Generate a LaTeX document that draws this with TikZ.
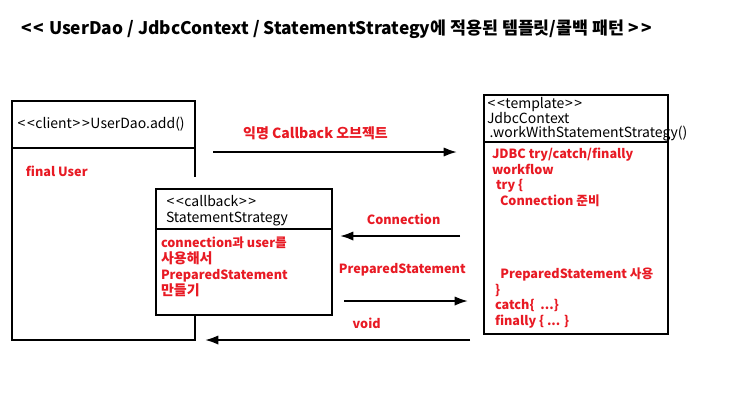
\documentclass[tikz,border=0pt]{standalone}
\usepackage{fontspec}
\setmainfont{Noto Sans CJK KR}
\usetikzlibrary{arrows.meta,calc}
\definecolor{notered}{RGB}{232,26,36}
\newcommand\dlt{\kern0.5pt<\kern1.2pt<\kern0.5pt}
\newcommand\dgt{\kern0.5pt>\kern1.2pt>\kern0.5pt}

\begin{document}
\begin{tikzpicture}[x=0.75pt,y=-0.75pt,>={Latex[length=10pt,width=7pt]},line width=1.5pt,
  box/.style={draw,rectangle,anchor=north west,inner sep=0pt,fill=white},
  head/.style={anchor=north west,inner sep=0pt,align=left,font=\fontsize{10.5}{10.5}\selectfont},
  body/.style={anchor=north west,inner sep=0pt,align=left,text=notered,font=\bfseries\fontsize{9.5}{11.7}\selectfont},
  lbl/.style={text=notered,font=\bfseries\fontsize{9.5}{11}\selectfont,inner sep=0pt,above=8pt}]
\useasboundingbox (0,0) rectangle (746,405);
\node[font=\bfseries\fontsize{13}{15}\selectfont,anchor=west,inner sep=0pt] (title) at (20,29) {\dlt{} UserDao / JdbcContext / StatementStrategy에 적용된 템플릿/콜백 패턴 \dgt};

\node[box,minimum width=137.25pt,minimum height=179.25pt] (dao) at (11,100) {};
\node[box,minimum width=138pt,minimum height=179.25pt] (jdbc) at (483,94) {};
\fill[white] ($(dao.north east)+(-4,77)$) rectangle ($(dao.north east)+(4,88)$);
\node[box,minimum width=132pt,minimum height=94.5pt] (stmt) at (155,188) {};
\draw ($(dao.north west)+(0,48)$) -- ($(dao.north east)+(0,48)$);
\draw ($(stmt.north west)+(0,41)$) -- ($(stmt.north east)+(0,41)$);
\draw ($(jdbc.north west)+(0,48)$) -- ($(jdbc.north east)+(0,48)$);

\node[head,anchor=west] (daohead) at (16,124) {\dlt{}client\dgt{}UserDao.add()};
\node[body] (daobody) at (25,165) {final User};
\node[head,font=\fontsize{10.5}{12}\selectfont] (stmthead) at (165,194) {\dlt{}callback\dgt\\StatementStrategy};
\node[body,font=\bfseries\fontsize{9.5}{12}\selectfont] (stmtbody) at (160,236) {connection과 user를\\{\fontsize{10.5}{12}\selectfont 사용해서}\\PreparedStatement\\{\fontsize{10.5}{12}\selectfont 만들기}};
\node[head] (jdbchead) at (486,96) {\dlt{}template\dgt\\JdbcContext\\\hspace{2pt}.workWithStatementStrategy()};
\node[body] (jdbctry) at (491,147) {JDBC try/catch/finally\\workflow\\\hspace{3pt}try \{\\\hspace{6pt}Connection 준비};
\node[body] (jdbcend) at (494,267) {\hspace{4pt}PreparedStatement 사용\\\}\\catch\{~~...\}\\finally \{ ... \}};

\coordinate (cbfrom) at (213,152);
\coordinate (cbto) at (457,152);
\coordinate (confrom) at (460,236);
\coordinate (conto) at (340,236);
\coordinate (psfrom) at (344,301);
\coordinate (psto) at (468,301);
\coordinate (voidfrom) at (470,340);
\coordinate (voidto) at (205,340);

\draw[->] (cbfrom) -- node[lbl,pos=0.42,font=\bfseries\fontsize{10.5}{12}\selectfont] (cblabel) {익명 Callback 오브젝트} (cbto);
\draw[->] (confrom) -- node[lbl,pos=0.47] (conlabel) {Connection} (conto);
\draw[->] (psfrom) -- node[lbl,pos=0.47,above=10pt] (pslabel) {PreparedStatement} (psto);
\draw[->] (voidfrom) -- node[lbl,pos=0.39] (voidlabel) {void} (voidto);
\end{tikzpicture}
\end{document}
